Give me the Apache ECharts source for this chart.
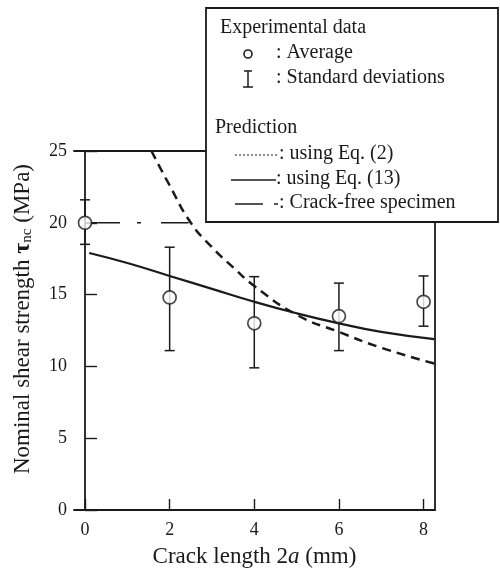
<!DOCTYPE html>
<html>
<head>
<meta charset="utf-8">
<script src="https://cdn.jsdelivr.net/npm/echarts@6/dist/echarts.min.js"></script>
<style>
  html, body { margin: 0; padding: 0; background: #fff; }
  #chart { width: 500px; height: 569px; }
</style>
</head>
<body>
<div id="chart"></div>
<script>
// measured data (crack length in mm, strength in MPa)
const crackLength = [0, 2, 4, 6, 8];
const avgStrength = [20.0, 14.8, 13.0, 13.5, 14.5];
const sdUpper = [21.6, 18.3, 16.25, 15.8, 16.3];
const sdLower = [18.5, 11.1, 9.9, 11.1, 12.8];

// prediction, Eq. (13)
const eq13X = [0.1, 1, 2, 3, 4, 5, 6, 7, 8.25];
const eq13Y = [17.9, 17.2, 16.3, 15.4, 14.5, 13.7, 13.0, 12.4, 11.9];

// prediction, Eq. (2)
const eq2X = [1.57, 2, 2.5, 3, 3.5, 4, 5, 6, 7, 8.25];
const eq2Y = [25.0, 22.6, 20.0, 18.3, 16.9, 15.6, 13.6, 12.4, 11.3, 10.2];

// crack-free specimen
const crackFreeX = [0, 2.45];
const crackFreeY = [20, 20];

const xTicks = [0, 2, 4, 6, 8];
const yTicks = [0, 5, 10, 15, 20, 25];

const serif = '"Liberation Serif", "DejaVu Serif", serif';
const ink = "#1a1a1a";
const pairs = (xs, ys) => xs.map((x, i) => [x, ys[i]]);

let myChart = echarts.init(document.getElementById("chart"));

// legend box, drawn over the plot
const lf = "20px " + serif;
const legendItems = [
  { type: "rect", shape: { x: 206, y: 8, width: 292, height: 214 }, style: { fill: "#fff", stroke: ink, lineWidth: 1.8 } },
  { type: "text", x: 220, y: 28, style: { text: "Experimental data", font: lf, fill: ink, verticalAlign: "middle" } },
  { type: "circle", shape: { cx: 248, cy: 54, r: 4 }, style: { fill: "#fff", stroke: ink, lineWidth: 1.6 } },
  { type: "text", x: 276, y: 53, style: { text: ": Average", font: lf, fill: ink, verticalAlign: "middle" } },
  { type: "line", shape: { x1: 248, y1: 71, x2: 248, y2: 87 }, style: { stroke: ink, lineWidth: 1.5 } },
  { type: "line", shape: { x1: 244, y1: 71, x2: 252, y2: 71 }, style: { stroke: ink, lineWidth: 1.5 } },
  { type: "line", shape: { x1: 243, y1: 87, x2: 253, y2: 87 }, style: { stroke: ink, lineWidth: 1.5 } },
  { type: "text", x: 276, y: 78, style: { text: ": Standard deviations", font: lf, fill: ink, verticalAlign: "middle" } },
  { type: "text", x: 215, y: 128, style: { text: "Prediction", font: lf, fill: ink, verticalAlign: "middle" } },
  { type: "line", shape: { x1: 235, y1: 155, x2: 279, y2: 155 }, style: { stroke: ink, lineWidth: 1.2, lineDash: [2, 2] } },
  { type: "text", x: 279, y: 154, style: { text: ": using Eq. (2)", font: lf, fill: ink, verticalAlign: "middle" } },
  { type: "line", shape: { x1: 231, y1: 180, x2: 276, y2: 180 }, style: { stroke: ink, lineWidth: 1.5 } },
  { type: "text", x: 276, y: 179, style: { text: ": using Eq. (13)", font: lf, fill: ink, verticalAlign: "middle" } },
  { type: "line", shape: { x1: 235, y1: 204, x2: 263, y2: 204 }, style: { stroke: ink, lineWidth: 1.5 } },
  { type: "line", shape: { x1: 274, y1: 204, x2: 278, y2: 204 }, style: { stroke: ink, lineWidth: 1.5 } },
  { type: "text", x: 279, y: 203, style: { text: ": Crack-free specimen", font: lf, fill: ink, verticalAlign: "middle" } },
].map((el) => Object.assign({ z: 100 }, el));

myChart.setOption({
  animation: false,
  backgroundColor: "#fff",
  grid: { left: 74, right: 65, top: 151, bottom: 59, outerBoundsMode: "none" },
  xAxis: [
    {
      type: "value",
      min: -0.26,
      max: 8.27,
      splitLine: { show: false },
      axisLine: { lineStyle: { color: ink, width: 1.8 } },
      axisTick: { inside: true, length: 11, customValues: xTicks, lineStyle: { color: ink, width: 1.4 } },
      axisLabel: {
        customValues: xTicks,
        color: ink,
        fontFamily: serif,
        fontSize: 18,
        margin: 11,
      },
      name: "Crack length 2{i|a} (mm)",
      nameLocation: "middle",
      nameGap: 35,
      nameTextStyle: {
        color: ink,
        fontFamily: serif,
        fontSize: 23,
        rich: { i: { fontStyle: "italic", fontFamily: serif, fontSize: 23, color: ink } },
      },
    },
    {
      type: "value",
      position: "top",
      min: -0.26,
      max: 8.27,
      splitLine: { show: false },
      axisLine: { show: true, onZero: false, lineStyle: { color: ink, width: 1.8 } },
      axisTick: { show: false },
      axisLabel: { show: false },
    },
  ],
  yAxis: [
    {
      type: "value",
      min: 0,
      max: 25,
      interval: 5,
      splitLine: { show: false },
      axisLine: { show: true, lineStyle: { color: ink, width: 1.8 } },
      axisTick: { inside: true, length: 12, lineStyle: { color: ink, width: 1.4 } },
      axisLabel: {
        color: ink,
        fontFamily: serif,
        fontSize: 18,
        margin: 7,
        formatter: (v) => (yTicks.includes(v) ? String(v) : ""),
      },
    },
    {
      type: "value",
      position: "right",
      min: 0,
      max: 25,
      splitLine: { show: false },
      axisLine: { show: true, onZero: false, lineStyle: { color: ink, width: 1.8 } },
      axisTick: { show: false },
      axisLabel: { show: false },
    },
  ],
  series: [
    {
      name: "using Eq. (2)",
      type: "line",
      smooth: true,
      symbol: "none",
      data: pairs(eq2X, eq2Y),
      lineStyle: { color: ink, width: 2.5, type: [9, 6] },
    },
    {
      name: "using Eq. (13)",
      type: "line",
      smooth: true,
      symbol: "none",
      data: pairs(eq13X, eq13Y),
      lineStyle: { color: ink, width: 2.2 },
    },
    {
      name: "Crack-free specimen",
      type: "line",
      symbol: "none",
      data: pairs(crackFreeX, crackFreeY),
      lineStyle: { color: ink, width: 1.6, type: [35, 17, 4, 20] },
    },
    {
      name: "Standard deviations",
      type: "custom",
      data: crackLength.map((x, i) => [x, sdLower[i], sdUpper[i]]),
      renderItem: (params, api) => {
        const lo = api.coord([api.value(0), api.value(1)]);
        const hi = api.coord([api.value(0), api.value(2)]);
        const w = 5;
        const st = { stroke: ink, lineWidth: 1.5 };
        return {
          type: "group",
          children: [
            { type: "line", shape: { x1: lo[0], y1: lo[1], x2: hi[0], y2: hi[1] }, style: st },
            { type: "line", shape: { x1: lo[0] - w, y1: lo[1], x2: lo[0] + w, y2: lo[1] }, style: st },
            { type: "line", shape: { x1: hi[0] - w, y1: hi[1], x2: hi[0] + w, y2: hi[1] }, style: st },
          ],
        };
      },
      z: 3,
    },
    {
      name: "Average",
      type: "scatter",
      symbol: "circle",
      symbolSize: 13,
      data: pairs(crackLength, avgStrength),
      itemStyle: { color: "#fff", borderColor: ink, borderWidth: 1.7 },
      z: 4,
    },
  ],
  graphic: [
    {
      type: "text",
      left: 11,
      top: 164,
      rotation: Math.PI / 2,
      style: {
        text: "{n|Nominal shear strength }{t|τ}{s|nc}{n| (MPa)}",
        rich: {
          n: { fontFamily: serif, fontSize: 23, fill: ink },
          t: { fontFamily: serif, fontSize: 24, fontWeight: "bold", fill: ink },
          s: { fontFamily: serif, fontSize: 15, fill: ink, padding: [9, 0, 0, 0] },
        },
      },
    },
  ].concat(legendItems),
});
</script>
</body>
</html>
